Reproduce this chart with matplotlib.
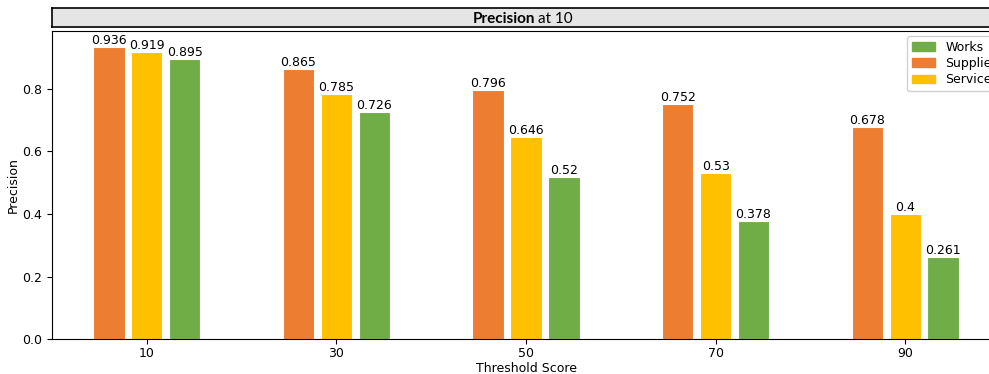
import numpy as np
import matplotlib
matplotlib.use('Agg')
import matplotlib.pyplot as plt
from matplotlib.patches import Patch

thresholds = [10, 30, 50, 70, 90]
supplies = [0.936, 0.865, 0.796, 0.752, 0.678]
services = [0.919, 0.785, 0.646, 0.53, 0.4]
works = [0.895, 0.726, 0.52, 0.378, 0.261]

c_supplies = '#ED7D31'
c_services = '#FFC000'
c_works = '#70AD47'

fig = plt.figure(figsize=(9.89, 3.74), dpi=100)

# main axes, right edge runs slightly past the image like the original
ax = fig.add_axes([52/989, 35/374, 948/989, 308/374])
x = np.array(thresholds, dtype=float)
w = 3.3
series = [(supplies, c_supplies, -4.0), (services, c_services, 0.0), (works, c_works, 4.0)]
for vals, col, off in series:
    bars = ax.bar(x + off, vals, width=w, color=col, edgecolor='white', linewidth=0.8)
    for b, v in zip(bars, vals):
        ax.text(b.get_x() + b.get_width()/2, v, str(v), ha='center', va='bottom', fontsize=9)

ax.set_xlim(0, 100)
ax.set_ylim(0, 0.9856)
ax.set_xticks(thresholds)
ax.set_xticklabels([str(t) for t in thresholds])
ax.tick_params(labelsize=9)
ax.tick_params(axis='x', pad=2.5)
ax.set_xlabel('Threshold Score', fontsize=9, labelpad=1)
ax.set_ylabel('Precision', fontsize=9, labelpad=2)

handles = [Patch(color=c_works, label='Works'),
           Patch(color=c_supplies, label='Supplies'),
           Patch(color=c_services, label='Services')]
ax.legend(handles=handles, loc='upper left', fontsize=9, handlelength=1.85,
          labelspacing=0.25, borderpad=0.4, borderaxespad=0,
          bbox_to_anchor=(907/989, 1 - 36/374), bbox_transform=fig.transFigure,
          framealpha=0.9)

# facet-style title strip
strip = fig.add_axes([52/989, (374-27)/374, 948/989, 19/374])
strip.set_facecolor('#e5e5e5')
strip.set_xticks([])
strip.set_yticks([])
for s in strip.spines.values():
    s.set_linewidth(1.2)
strip.text((535 - 52) / 948, 0.42, 'Precision', fontweight='bold',
           ha='right', va='center', fontsize=11, family='Lato', transform=strip.transAxes)
strip.text((538 - 52) / 948, 0.42, 'at 10', ha='left', va='center', fontsize=11,
           family='Lato', transform=strip.transAxes)

fig.savefig('out.png', dpi=100)
